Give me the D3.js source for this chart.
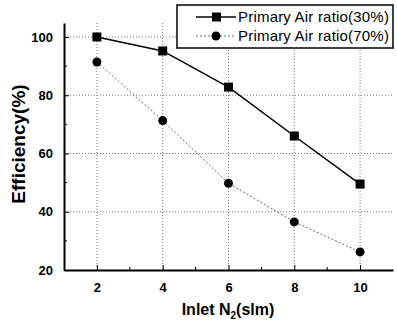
<!DOCTYPE html>
<html>
<head>
  <meta charset="utf-8">
  <script src="https://d3js.org/d3.v7.min.js"></script>
  <style>
    body { margin: 0; background: #fff; }
    svg text { font-family: "Liberation Sans", Arial, sans-serif; }
  </style>
</head>
<body>
  <svg class="chart" width="397" height="323"></svg>
  <script>
    var inletN2 = [2, 4, 6, 8, 10];
    var air30 = [100, 95.2, 82.8, 66, 49.5];
    var air70 = [91.4, 71.3, 49.8, 36.5, 26.2];
    var seriesNames = ["Primary Air ratio(30%)", "Primary Air ratio(70%)"];
    var xTicks = [2, 4, 6, 8, 10];
    var yTicks = [20, 40, 60, 80, 100];

    var svg = d3.select("svg.chart");
    var margin = { top: 23, left: 64, bottom: 53, right: 4 };
    var width = +svg.attr("width") - margin.left - margin.right;
    var height = +svg.attr("height") - margin.top - margin.bottom;

    var x = d3.scaleLinear().domain([1, 11]).range([margin.left, margin.left + width]);
    var y = d3.scaleLinear().domain([20, 104.8]).range([margin.top + height, margin.top]);

    // grid
    svg.append("g").selectAll("line").data(xTicks).enter().append("line")
      .attr("x1", d => x(d)).attr("x2", d => x(d))
      .attr("y1", y.range()[1]).attr("y2", y.range()[0])
      .attr("stroke", "#777").attr("stroke-width", 1).attr("stroke-dasharray", "1,2");
    svg.append("g").selectAll("line").data(yTicks.slice(1)).enter().append("line")
      .attr("x1", x.range()[0]).attr("x2", x.range()[1])
      .attr("y1", d => y(d)).attr("y2", d => y(d))
      .attr("stroke", "#777").attr("stroke-width", 1).attr("stroke-dasharray", "1,2");

    // axes
    var xAxis = svg.append("g").attr("transform", `translate(0,${margin.top + height})`)
      .call(d3.axisBottom(x).tickValues(xTicks).tickSizeInner(-5).tickSizeOuter(0).tickPadding(13));
    var yAxis = svg.append("g").attr("transform", `translate(${margin.left},0)`)
      .call(d3.axisLeft(y).tickValues(yTicks).tickSizeInner(-5).tickSizeOuter(0).tickPadding(11));
    [xAxis, yAxis].forEach(function(a) {
      a.select(".domain").attr("stroke-width", 2);
      a.selectAll("text").style("font-size", "13px").style("font-weight", "bold").attr("fill", "#000");
    });

    // minor ticks
    svg.append("g").selectAll("line").data([3, 5, 7, 9]).enter().append("line")
      .attr("x1", d => x(d)).attr("x2", d => x(d))
      .attr("y1", y(20)).attr("y2", y(20) - 3).attr("stroke", "#000");
    svg.append("g").selectAll("line").data([30, 50, 70, 90]).enter().append("line")
      .attr("x1", x(1)).attr("x2", x(1) + 3)
      .attr("y1", d => y(d)).attr("y2", d => y(d)).attr("stroke", "#000");

    // lines
    var line = d3.line().x((d, i) => x(inletN2[i])).y(d => y(d));
    svg.append("path").datum(air30).attr("d", line)
      .attr("fill", "none").attr("stroke", "#000").attr("stroke-width", 1.5);
    svg.append("path").datum(air70).attr("d", line)
      .attr("fill", "none").attr("stroke", "#666").attr("stroke-width", 1).attr("stroke-dasharray", "2,2");

    svg.append("g").selectAll("rect").data(air30).enter().append("rect")
      .attr("x", (d, i) => x(inletN2[i]) - 4.5).attr("y", d => y(d) - 4.5)
      .attr("width", 9).attr("height", 9).attr("fill", "#000");
    svg.append("g").selectAll("circle").data(air70).enter().append("circle")
      .attr("cx", (d, i) => x(inletN2[i])).attr("cy", d => y(d))
      .attr("r", 4.5).attr("fill", "#000");

    // axis titles
    var xt = svg.append("text").attr("x", 228).attr("y", 315).attr("text-anchor", "middle")
      .style("font-size", "16px").style("font-weight", "bold");
    xt.append("tspan").text("Inlet N");
    xt.append("tspan").attr("dy", 4).style("font-size", "10px").text("2");
    xt.append("tspan").attr("dy", -4).text("(slm)");

    svg.append("text").attr("transform", "translate(25,144) rotate(-90)")
      .attr("text-anchor", "middle").style("font-size", "19px").style("font-weight", "bold")
      .text("Efficiency(%)");

    // legend
    var lg = svg.append("g").attr("transform", "translate(177,5)");
    lg.append("rect").attr("width", 216).attr("height", 43)
      .attr("fill", "#fff").attr("stroke", "#000").attr("stroke-width", 1.5);
    seriesNames.forEach(function(name, i) {
      var yy = 12 + i * 19;
      lg.append("line").attr("x1", 19).attr("x2", 59).attr("y1", yy).attr("y2", yy)
        .attr("stroke", i ? "#666" : "#000").attr("stroke-width", i ? 1 : 1.5)
        .attr("stroke-dasharray", i ? "2,2" : null);
      if (i === 0) {
        lg.append("rect").attr("x", 35).attr("y", yy - 4.5).attr("width", 9).attr("height", 9).attr("fill", "#000");
      } else {
        lg.append("circle").attr("cx", 39).attr("cy", yy).attr("r", 4.5).attr("fill", "#000");
      }
      lg.append("text").attr("x", 61).attr("y", yy + 5).style("font-size", "15px")
        .style("letter-spacing", "0.2px").text(name);
    });
  </script>
</body>
</html>
